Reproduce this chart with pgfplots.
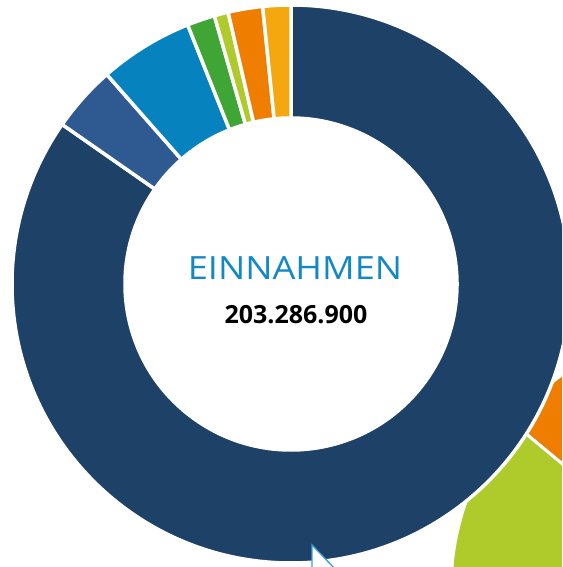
\documentclass[border=0pt]{standalone}
\usepackage{pgfplots}
\pgfplotsset{compat=1.18}
\usepackage{pgfplotstable}
\usepackage{fontspec}
\setmainfont{Open Sans}

\definecolor{c0}{HTML}{1E4168}
\definecolor{c1}{HTML}{2E5A91}
\definecolor{c2}{HTML}{0683BE}
\definecolor{c3}{HTML}{3FA535}
\definecolor{c4}{HTML}{AECA2B}
\definecolor{c5}{HTML}{EF7D00}
\definecolor{c6}{HTML}{F5A70F}
\definecolor{titleblue}{HTML}{1288C7}
\definecolor{cursorblue}{HTML}{3E9CDB}

% share of each income group, percent, clockwise from 12 o'clock
\pgfplotstableread{
seg value
0 84.69
1 3.83
2 5.44
3 1.61
4 0.81
5 2.00
6 1.62
}\einnahmen

% the neighbouring chart, only its edge is in view (angles in degrees)
\pgfplotstableread{
seg from to
5 95 140.3
4 140.3 215
}\nachbar

\begin{document}
\begin{tikzpicture}
\begin{axis}[
  scale only axis, width=562pt, height=567pt,
  xmin=0, xmax=562, ymin=0, ymax=567,
  hide axis, clip=true]

% neighbouring pie behind
\pgfplotstablegetrowsof{\nachbar}
\pgfmathtruncatemacro\M{\pgfplotsretval-1}
\pgfplotsforeachungrouped \i in {0,...,\M}{
  \pgfplotstablegetelem{\i}{seg}\of\nachbar \let\s\pgfplotsretval
  \pgfplotstablegetelem{\i}{from}\of\nachbar \let\a\pgfplotsretval
  \pgfplotstablegetelem{\i}{to}\of\nachbar \let\b\pgfplotsretval
  \pgfmathsetmacro\xa{713+262*cos(\a)}
  \pgfmathsetmacro\ya{-22+262*sin(\a)}
  \edef\temp{\noexpand\fill[c\s, draw=white, line width=3pt]
    (axis cs:713,-22) -- (axis cs:\xa,\ya)
    arc[start angle=\a, end angle=\b, radius=262pt] -- cycle;}
  \temp
}

% the donut
\pgfplotstablegetrowsof{\einnahmen}
\pgfmathtruncatemacro\N{\pgfplotsretval-1}
\def\acc{90}
\pgfplotsforeachungrouped \i in {0,...,\N}{
  \pgfplotstablegetelem{\i}{value}\of\einnahmen
  \pgfmathsetmacro\aend{\acc-3.6*\pgfplotsretval}
  \pgfmathsetmacro\xo{291+279*cos(\acc)}
  \pgfmathsetmacro\yo{283+279*sin(\acc)}
  \pgfmathsetmacro\xi{291+166*cos(\aend)}
  \pgfmathsetmacro\yi{283+166*sin(\aend)}
  \edef\temp{\noexpand\fill[c\i, draw=white, line width=3.5pt, line join=miter]
    (axis cs:\xo,\yo) arc[start angle=\acc, end angle=\aend, radius=279pt]
    -- (axis cs:\xi,\yi) arc[start angle=\aend, end angle=\acc, radius=166pt] -- cycle;}
  \temp
  \global\let\acc\aend
}

\node[font=\fontsize{32}{32}\selectfont, text=titleblue] at (axis cs:295,299)
  {\scalebox{1.13}[1]{EINNAHMEN}};
\node[font=\bfseries\fontsize{25}{25}\selectfont] at (axis cs:296,252) {203.286.900};

% mouse pointer
\fill[white, draw=cursorblue, line width=1.3pt, line join=miter]
  (axis cs:312,22) -- (axis cs:312,-5) -- (axis cs:338,-5) -- cycle;
\end{axis}
\pgfresetboundingbox
\path (current axis.south west) rectangle (current axis.north east);
\end{tikzpicture}
\end{document}
